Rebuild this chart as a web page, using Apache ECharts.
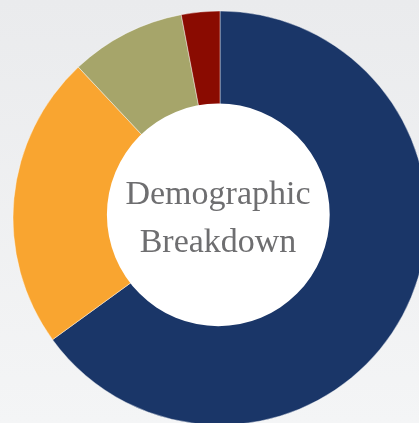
<!DOCTYPE html>
<html>
<head>
<meta charset="utf-8">
<script src="https://cdn.jsdelivr.net/npm/echarts@6/dist/echarts.min.js"></script>
<style>
html,body{margin:0;padding:0;}
#chart{width:419px;height:423px;background:linear-gradient(180deg,#eaebed 0%,#f4f5f6 100%);}
</style>
</head>
<body>
<div id="chart"></div>
<script>
var categories = ['Group A', 'Group B', 'Group C', 'Group D'];
var values = [65, 23, 9, 3];
var colors = ['#1a3668', '#f9a530', '#a6a56a', '#8a0b01'];
var centerTitle = 'Demographic\nBreakdown';

var chart = echarts.init(document.getElementById('chart'), null, {renderer: 'canvas'});
var data = categories.map(function (c, i) {
  return {name: c, value: values[i], itemStyle: {color: colors[i]}};
});
chart.setOption({
  backgroundColor: 'transparent',
  animation: false,
  graphic: [{
    type: 'text',
    z: 100,
    x: 218,
    y: 171,
    style: {
      text: centerTitle,
      x: 0,
      y: 0,
      align: 'center',
      verticalAlign: 'top',
      font: '34px "Liberation Serif"',
      lineHeight: 48,
      fill: '#6e6e70'
    }
  }],
  series: [
    {
      type: 'pie',
      center: [220, 218],
      radius: [104, 207],
      startAngle: 90,
      clockwise: true,
      label: {show: false},
      labelLine: {show: false},
      itemStyle: {borderColor: 'rgba(255,255,255,0.7)', borderWidth: 0.6},
      emphasis: {disabled: true},
      data: data
    },
    {
      type: 'pie',
      center: [218.3, 214.8],
      radius: [0, 111.4],
      silent: true,
      label: {show: false},
      labelLine: {show: false},
      itemStyle: {color: '#ffffff'},
      emphasis: {disabled: true},
      data: [{name: 'center', value: 1}]
    }
  ]
});
</script>
</body>
</html>
